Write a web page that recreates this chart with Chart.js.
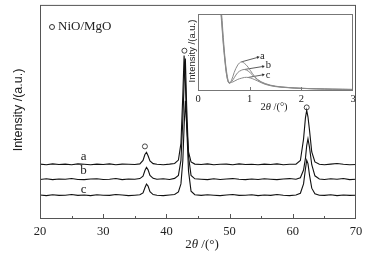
<!DOCTYPE html>
<html>
<head>
<meta charset="utf-8">
<script src="https://cdn.jsdelivr.net/npm/chart.js@4/dist/chart.umd.min.js"></script>
<style>
  html, body { margin: 0; padding: 0; background: #fff; }
  #wrap { position: relative; width: 374px; height: 257px; }
  #main { position: absolute; left: 0; top: 0; }
  #inset { position: absolute; left: 180px; top: 10px; }
</style>
</head>
<body>
<div id="wrap">
  <canvas id="main" width="374" height="257"></canvas>
  <canvas id="inset" width="185" height="108"></canvas>
</div>
<script>
// main pattern: 2theta positions shared by the three traces (offset stacked)
const twoTheta = [20,21,22,23,24,25,26,27,28,29,30,31,32,33,34,35,35.8,36.3,36.6,36.85,37.1,37.4,37.9,38.5,39.5,40.5,41.3,41.9,42.3,42.6,42.8,43.0,43.2,43.5,43.9,44.5,45.5,46.5,47.5,48.5,49.5,50.5,51.5,52.5,53.5,54.5,55.5,56.5,57.5,58.5,59.5,60.5,61.2,61.7,62.0,62.2,62.4,62.65,63.0,63.5,64.2,65,66,67,68,69,70];

const traceA = [25.3,25.0,25.4,25.1,25.3,25.0,25.4,25.2,25.0,25.3,25.1,25.4,25.0,25.3,25.2,25.1,
  25.4,27.0,29.8,30.8,29.2,26.8,25.5,25.2,25.0,25.3,25.6,27.2,35,58,76.2,64,44,31,26.3,25.3,
  25.1,25.4,25.0,25.2,25.3,25.0,25.4,25.1,25.2,25.0,25.3,25.1,25.4,25.0,25.2,25.3,
  27,37,47,50.5,47.5,41,31,26.3,25.2,
  25.0,25.3,25.6,25.2,25.0,25.1];

const traceB = [18.1,18.4,18.0,18.3,18.2,18.5,18.1,18.0,18.3,18.4,18.1,18.2,18.5,18.0,18.3,18.2,
  18.5,19.6,22.3,23.8,22.6,20.0,18.6,18.2,18.4,18.1,18.6,20.0,27,46,63,74.8,53,29,20,18.4,
  18.2,18.0,18.4,18.1,18.3,18.5,18.2,18.0,18.3,18.1,18.4,18.2,18.0,18.3,18.5,18.2,
  18.9,22.5,28,34,37.2,33,25,19.8,18.3,
  18.1,18.4,18.2,18.5,18.0,18.2];

const traceC = [10.8,10.5,10.9,10.6,10.7,11.0,10.6,10.8,10.5,10.9,10.7,10.6,11.0,10.8,10.5,10.7,
  10.9,11.8,14.2,15.9,15.0,12.4,11.0,10.7,10.5,10.8,11.0,12.2,16,27,43,55,44,22,12.6,10.9,
  10.6,10.9,10.7,10.5,10.8,11.0,10.6,10.7,10.9,10.5,10.8,10.6,11.0,10.7,10.5,10.8,
  11.6,16,23,27.1,25.5,20,14,11.4,10.7,
  10.6,10.9,10.5,10.8,10.6,10.7];

// NiO/MgO reflections (open circles)
const peakPos = [36.6, 42.85, 62.2];
const peakMark = [33.6, 78.5, 51.9];

// trace names and where they sit
const traceNames = ['a', 'b', 'c'];
const nameX = [26.9, 26.9, 26.9];
const nameY = [29.0, 22.2, 13.4];

const xTicks = [20, 30, 40, 50, 60, 70];

// inset: small-angle region
const insetTheta = [0.41,0.45,0.48,0.5,0.53,0.56,0.6,0.65,0.7,0.77,0.84,0.9,0.97,1.05,1.15,1.3,1.5,1.75,2.0,2.3,2.6,3.0];
const insetA = [130,100,72,55,34,18,9,13,23,33,37,35,30,22,14,8.5,5,3.3,2.3,1.6,1.1,0.7];
const insetB = [125,95,68,52,32,17,9,11,16,23,26,27,25,20,13.5,8,4.8,3.2,2.2,1.6,1.1,0.7];
const insetC = [120,105,78,60,37,21,10,10,11.5,14,15.5,16.5,16.5,15,12,7.5,4.5,3.0,2.1,1.5,1.0,0.7];

// pointer lines in the inset: [from x, to x], [from y, to y]
const arrowX = [[0.84, 1.16], [0.9, 1.26], [0.97, 1.26]];
const arrowY = [[37, 43], [27, 31], [16.5, 20]];
const insetLabelX = [1.2, 1.31, 1.31];
const insetLabelY = [44, 32, 20];
const insetTicks = [0, 1, 2, 3];

const SERIF = '"Liberation Serif", "Times New Roman", serif';
const SANS = '"Liberation Sans", Arial, sans-serif';

const zip = (xs, ys) => xs.map((x, i) => ({ x: x, y: ys[i] }));

// "2θ /(°)" with italic theta
function drawTwoTheta(ctx, cx, cy, size) {
  const parts = [['2', ''], ['\u03b8', 'italic '], [' /(\u00b0)', '']];
  let w = 0;
  parts.forEach(p => { ctx.font = p[1] + size + 'px ' + SERIF; w += ctx.measureText(p[0]).width; });
  let x = cx - w / 2;
  ctx.textBaseline = 'middle';
  ctx.textAlign = 'left';
  parts.forEach(p => {
    ctx.font = p[1] + size + 'px ' + SERIF;
    ctx.fillText(p[0], x, cy);
    x += ctx.measureText(p[0]).width;
  });
}

const mainDecor = {
  id: 'mainDecor',
  afterDraw(chart) {
    const { ctx, chartArea: a, scales } = chart;
    const xs = scales.x, ys = scales.y;
    ctx.save();
    // frame
    ctx.strokeStyle = '#555';
    ctx.lineWidth = 1;
    ctx.strokeRect(a.left + 0.5, a.top + 0.5, a.right - a.left - 1, a.bottom - a.top);
    // inward ticks on the bottom axis
    for (let v = 25; v < 70; v += 5) {
      const px = Math.round(xs.getPixelForValue(v)) + 0.5;
      const len = v % 10 === 0 ? 4 : 2;
      ctx.beginPath();
      ctx.moveTo(px, a.bottom);
      ctx.lineTo(px, a.bottom - len);
      ctx.stroke();
    }
    ctx.fillStyle = '#222';
    // trace names
    ctx.font = '13px ' + SERIF;
    ctx.textAlign = 'center';
    ctx.textBaseline = 'middle';
    traceNames.forEach((n, i) => {
      ctx.fillText(n, xs.getPixelForValue(nameX[i]), ys.getPixelForValue(nameY[i]));
    });
    // legend
    ctx.beginPath();
    ctx.arc(52, 27, 2.5, 0, Math.PI * 2);
    ctx.strokeStyle = '#333';
    ctx.stroke();
    ctx.textAlign = 'left';
    ctx.fillText('NiO/MgO', 58, 27);
    // axis titles
    ctx.save();
    ctx.translate(19, 110);
    ctx.rotate(-Math.PI / 2);
    ctx.font = '12.5px ' + SANS;
    ctx.textAlign = 'center';
    ctx.fillText('Intensity /(a.u.)', 0, 0);
    ctx.restore();
    drawTwoTheta(ctx, 202, 245, 13);
    ctx.restore();
  }
};

const lineStyle = { borderColor: '#111', borderWidth: 1.1, pointRadius: 0, tension: 0, fill: false };

new Chart(document.getElementById('main'), {
  type: 'line',
  data: {
    datasets: [
      Object.assign({ label: 'a', data: zip(twoTheta, traceA) }, lineStyle),
      Object.assign({ label: 'b', data: zip(twoTheta, traceB) }, lineStyle),
      Object.assign({ label: 'c', data: zip(twoTheta, traceC) }, lineStyle),
      {
        label: 'NiO/MgO', type: 'scatter', data: zip(peakPos, peakMark),
        pointStyle: 'circle', pointRadius: 2.5, borderWidth: 0.9,
        borderColor: '#333', backgroundColor: '#fff'
      }
    ]
  },
  options: {
    responsive: false,
    animation: false,
    devicePixelRatio: 1,
    layout: { padding: { top: 4, right: 18, left: 40, bottom: 0 } },
    plugins: { legend: { display: false }, tooltip: { enabled: false } },
    scales: {
      x: {
        type: 'linear', min: 20, max: 70,
        afterBuildTicks: s => { s.ticks = xTicks.map(v => ({ value: v })); },
        afterFit: s => { s.height = 39; },
        grid: { display: false, drawTicks: false },
        border: { display: false },
        ticks: { padding: 6, color: '#222', font: { family: SERIF, size: 12.5 } }
      },
      y: { display: false, min: 0, max: 100 }
    }
  },
  plugins: [mainDecor]
});

const insetDecor = {
  id: 'insetDecor',
  beforeDraw(chart) {
    const { ctx, chartArea: a } = chart;
    ctx.save();
    ctx.fillStyle = '#fff';
    ctx.fillRect(a.left, a.top, a.right - a.left, a.bottom - a.top);
    ctx.restore();
  },
  afterDraw(chart) {
    const { ctx, chartArea: a, scales } = chart;
    const xs = scales.x, ys = scales.y;
    ctx.save();
    ctx.strokeStyle = '#777';
    ctx.lineWidth = 1;
    ctx.strokeRect(a.left + 0.5, a.top + 0.5, a.right - a.left - 1, a.bottom - a.top);
    [1, 2].forEach(v => {
      const px = Math.round(xs.getPixelForValue(v)) + 0.5;
      ctx.beginPath();
      ctx.moveTo(px, a.bottom);
      ctx.lineTo(px, a.bottom - 3);
      ctx.stroke();
    });
    ctx.fillStyle = '#222';
    ctx.font = '10.5px ' + SERIF;
    ctx.textAlign = 'left';
    ctx.textBaseline = 'middle';
    traceNames.forEach((n, i) => {
      ctx.fillText(n, xs.getPixelForValue(insetLabelX[i]), ys.getPixelForValue(insetLabelY[i]));
    });
    ctx.save();
    ctx.translate(12, 41);
    ctx.rotate(-Math.PI / 2);
    ctx.font = '9.5px ' + SANS;
    ctx.textAlign = 'center';
    ctx.fillText('Intensity /(a.u.)', 0, 0);
    ctx.restore();
    drawTwoTheta(ctx, 94, 97, 10.5);
    ctx.restore();
  }
};

const grey = { borderColor: '#8a8a8a', borderWidth: 1, pointRadius: 0, tension: 0.35, fill: false };
const pointer = (i) => ({
  data: zip(arrowX[i], arrowY[i]), borderColor: '#333', borderWidth: 0.8,
  pointRadius: [0, 1.8], pointStyle: 'triangle', rotation: 75,
  pointBackgroundColor: '#333', pointBorderWidth: 0, tension: 0
});

new Chart(document.getElementById('inset'), {
  type: 'line',
  data: {
    datasets: [
      Object.assign({ label: 'a', data: zip(insetTheta, insetA) }, grey),
      Object.assign({ label: 'b', data: zip(insetTheta, insetB) }, grey),
      Object.assign({ label: 'c', data: zip(insetTheta, insetC) }, grey),
      pointer(0), pointer(1), pointer(2)
    ]
  },
  options: {
    responsive: false,
    animation: false,
    devicePixelRatio: 1,
    layout: { padding: { top: 4, right: 12, left: 18, bottom: 0 } },
    plugins: { legend: { display: false }, tooltip: { enabled: false } },
    scales: {
      x: {
        type: 'linear', min: 0, max: 3,
        afterBuildTicks: s => { s.ticks = insetTicks.map(v => ({ value: v })); },
        afterFit: s => { s.height = 28; },
        grid: { display: false, drawTicks: false },
        border: { display: false },
        ticks: { padding: 3, color: '#222', font: { family: SERIF, size: 10.5 } }
      },
      y: { display: false, min: 0, max: 100 }
    }
  },
  plugins: [insetDecor]
});
</script>
</body>
</html>
